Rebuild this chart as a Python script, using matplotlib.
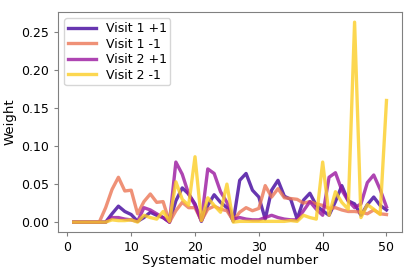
import numpy as np
import matplotlib
matplotlib.use('Agg')
import matplotlib.pyplot as plt
from matplotlib import cm

# systematic model numbers
models = np.arange(1, 51)

# weights per visit / direction
visit1_plus = [0, 0, 0, 0, 0, 0, 0.011, 0.021, 0.014, 0.010,
               0.001, 0.006, 0.013, 0.009, 0.006, 0, 0.028, 0.045, 0.037, 0.024,
               0.001, 0.022, 0.036, 0.026, 0.019, 0.001, 0.055, 0.064, 0.042, 0.033,
               0.004, 0.042, 0.055, 0.034, 0.030, 0.004, 0.029, 0.038, 0.022, 0.015,
               0.009, 0.027, 0.048, 0.028, 0.024, 0.009, 0.023, 0.033, 0.022, 0.016]
visit1_minus = [0, 0, 0, 0, 0, 0.019, 0.043, 0.059, 0.041, 0.042,
                0.011, 0.027, 0.037, 0.026, 0.027, 0, 0.015, 0.026, 0.019, 0.019,
                0.002, 0.017, 0.021, 0.017, 0.015, 0.002, 0.013, 0.019, 0.015, 0.018,
                0.048, 0.033, 0.044, 0.032, 0.031, 0.030, 0.025, 0.027, 0.024, 0.022,
                0.018, 0.019, 0.016, 0.014, 0.014, 0.013, 0.011, 0.016, 0.011, 0.010]
visit2_plus = [0, 0, 0, 0, 0, 0, 0.006, 0.006, 0.004, 0.003,
               0.001, 0.019, 0.016, 0.011, 0.006, 0, 0.079, 0.063, 0.037, 0.022,
               0.002, 0.070, 0.064, 0.040, 0.026, 0.004, 0.006, 0.004, 0.003, 0.003,
               0.006, 0.009, 0.006, 0.004, 0.003, 0.003, 0.015, 0.027, 0.017, 0.009,
               0.059, 0.065, 0.042, 0.028, 0.019, 0.024, 0.052, 0.062, 0.043, 0.020]
visit2_minus = [0, 0, 0, 0, 0, 0, 0.003, 0.002, 0.002, 0.003,
                0, 0.009, 0.006, 0.004, 0.014, 0.001, 0.053, 0.030, 0.022, 0.086,
                0.002, 0.032, 0.022, 0.013, 0.050, 0, 0.001, 0.001, 0.001, 0.001,
                0.001, 0.001, 0.001, 0.001, 0.002, 0.001, 0.009, 0.006, 0.004, 0.079,
                0.009, 0.040, 0.026, 0.017, 0.263, 0.006, 0.023, 0.017, 0.010, 0.160]

labels = ['Visit 1 +1', 'Visit 1 -1', 'Visit 2 +1', 'Visit 2 -1']
series = [visit1_plus, visit1_minus, visit2_plus, visit2_minus]
cpos = [0.1, 0.66, 0.33, 0.9]  # positions in plasma colormap

fig = plt.figure(figsize=(4.15, 2.77), dpi=100)
ax = fig.add_axes([0.14, 0.162, 0.829, 0.794])

for lab, s, c in zip(labels, series, cpos):
    ax.plot(models, s, color=cm.plasma(c), lw=2.4, alpha=0.8, label=lab)

ax.set_xlabel('Systematic model number', fontsize=9.5, labelpad=0)
ax.set_ylabel('Weight', fontsize=9.5, labelpad=3)
ax.tick_params(labelsize=9, color='gray', length=3)
for sp in ax.spines.values():
    sp.set_color('gray')
ax.legend(loc='upper left', fontsize=9, handlelength=2.2,
          borderpad=0.3, labelspacing=0.2)

fig.savefig('out.png', dpi=100)
